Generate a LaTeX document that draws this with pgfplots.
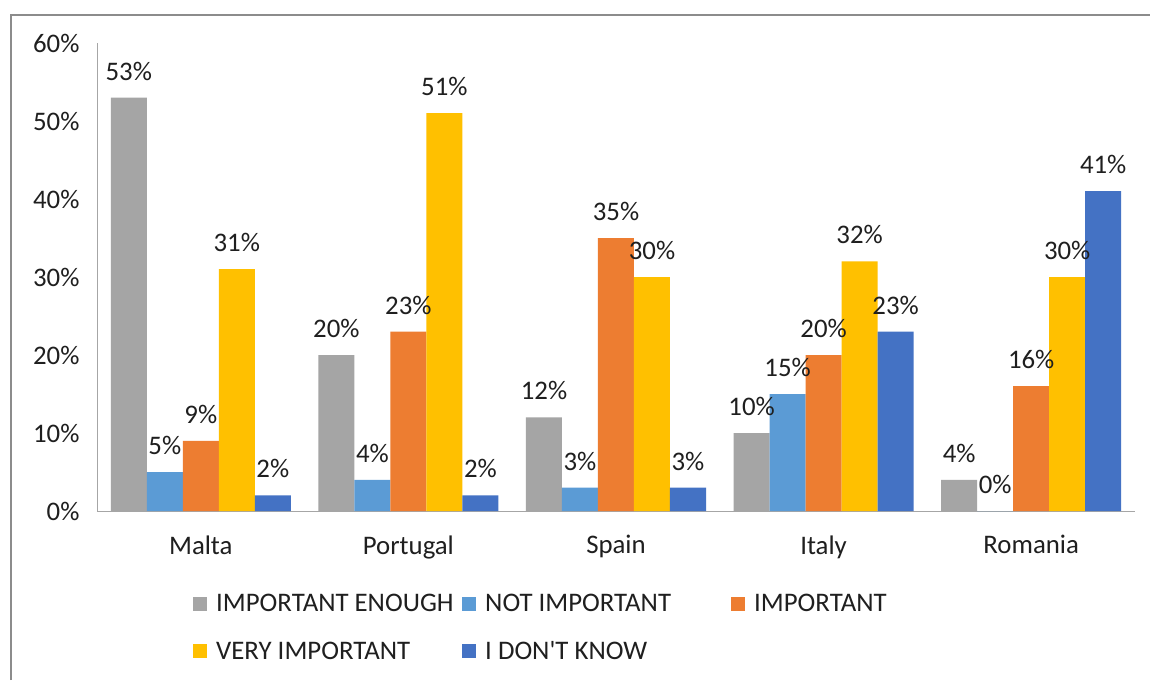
\documentclass[border=0pt]{standalone}
\usepackage{pgfplots}
\pgfplotsset{compat=1.18}
\usepackage{fontspec}
\setmainfont{Carlito}
\newfontfamily\plainfont{Carlito}
\definecolor{cgray}{HTML}{A5A5A5}
\definecolor{cblue}{HTML}{5B9BD5}
\definecolor{corange}{HTML}{ED7D31}
\definecolor{cyellow}{HTML}{FFC000}
\definecolor{cdblue}{HTML}{4472C4}
\definecolor{txt}{HTML}{1F1F1F}
\definecolor{axl}{HTML}{A6A6A6}
\definecolor{frm}{HTML}{8C8C8C}
\begin{document}
\begin{tikzpicture}[x=1pt,y=1pt]
\useasboundingbox (0,0) rectangle (1150,-680);
\fill[white] (0,0) rectangle (1150,-680);
\draw[frm,line width=1.2pt] (11,-680) -- (11,-15) -- (1150,-15);
\begin{axis}[
  at={(97pt,-511pt)}, anchor=south west,
  scale only axis, width=1038pt, height=468pt,
  ybar=0pt, bar width=36pt,
  xmin=-0.5, xmax=4.5, ymin=0, ymax=60,
  xtick={0,1,2,3,4},
  xticklabels={Malta,Portugal,Spain,Italy,Romania},
  ytick={0,10,20,30,40,50,60},
  yticklabels={0\%,10\%,20\%,30\%,40\%,50\%,60\%},
  major tick length=0pt,
  axis x line*=bottom, axis y line*=left,
  axis line style={axl,line width=1pt,-},
  every axis plot/.append style={draw=none},
  ticklabel style={font=\fontsize{26.8}{32}\selectfont, text=txt},
  yticklabel style={xshift=-14pt},
  xticklabel style={yshift=-21pt},
  /pgf/number format/assume math mode=true,
  point meta=y,
  nodes near coords={\pgfmathprintnumber{\pgfplotspointmeta}\%},
  every node near coord/.append style={font=\fontsize{26.8}{32}\selectfont, text=txt, inner sep=0pt, anchor=south, yshift=17pt},
  legend columns=3,
  legend image code/.code={\fill[#1,draw=none] (0pt,-7pt) rectangle (14pt,7pt);},
  legend style={draw=none, fill=none, font=\fontsize{26.8}{32}\selectfont, text=txt,
    at={(0.0925,-0.178)}, anchor=north west, inner sep=0pt, row sep=28pt,
    nodes={inner sep=0pt}, cells={anchor=west},
    /tikz/every odd column/.append style={column sep=9pt}},
  clip=false,
]
\addplot[fill=cgray] coordinates {(0,53) (1,20) (2,12) (3,10) (4,4)};
\addplot[fill=cblue] coordinates {(0,5) (1,4) (2,3) (3,15) (4,0)};
\addplot[fill=corange] coordinates {(0,9) (1,23) (2,35) (3,20) (4,16)};
\addplot[fill=cyellow] coordinates {(0,31) (1,51) (2,30) (3,32) (4,30)};
\addplot[fill=cdblue] coordinates {(0,2) (1,2) (2,3) (3,23) (4,41)};
\addlegendentry{\makebox[246pt][l]{IMPORTANT ENOUGH}}
\addlegendentry{\makebox[246pt][l]{NOT IMPORTANT}}
\addlegendentry{IMPORTANT}
\addlegendentry{\makebox[246pt][l]{VERY IMPORTANT}}
\addlegendentry{\makebox[246pt][l]{\plainfont I DON'T KNOW}}
\end{axis}
\end{tikzpicture}
\end{document}
